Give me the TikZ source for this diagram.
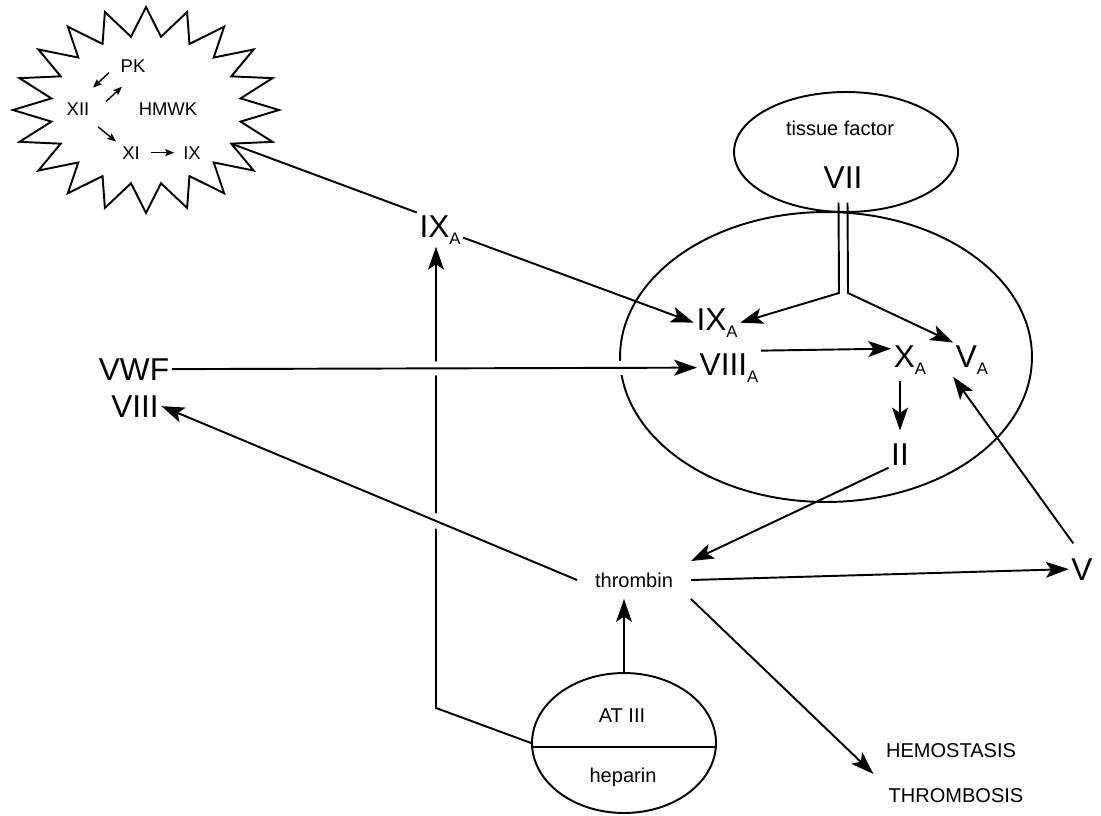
\documentclass[tikz,border=0pt]{standalone}
\usepackage{fontspec}
\setmainfont{Liberation Sans}
\usetikzlibrary{arrows.meta, positioning, shapes.geometric}

\newcommand{\subA}{\raisebox{-4pt}{\fontsize{9.5}{10}\selectfont A}}

\begin{document}
\begin{tikzpicture}[
        x=0.02cm, y=-0.02cm,
        line width=1.1pt,
        factor/.style={
            font=\fontsize{18}{20}\selectfont,
            inner sep=1pt,
            anchor=base
        },
        word/.style={
            font=\fontsize{11.4}{13}\selectfont,
            inner sep=1pt,
            anchor=base
        },
        burstlbl/.style={
            font=\fontsize{10.5}{12}\selectfont,
            inner sep=1pt,
            anchor=base
        },
        zone/.style={
            ellipse,
            draw,
            inner sep=0pt
        },
        link/.style={
            -{Stealth[length=13pt, width=9pt, inset=3pt]}
        },
        nudge/.style={
            -{Stealth[length=5pt, width=4pt, inset=1pt]},
            line width=0.8pt
        },
        gap/.style={
            draw=white,
            line width=8pt,
            shorten <=0.8cm,
            shorten >=0.8cm
        }
    ]
        \useasboundingbox (0,0) rectangle (1101,815);

        % contact activation burst
        \draw[line join=miter] (279,110)
            \foreach \k in {1,...,39}{
                -- ({146+133*(1-0.28*mod(\k,2))*cos(9*\k)}, {110+103*(1-0.28*mod(\k,2))*sin(9*\k)})
            } -- cycle;
        \coordinate (burstR) at ({146+133*0.72*cos(27)}, {110+103*0.72*sin(27)});

        \node (pk)   [burstlbl] at (133,72)  {PK};
        \node (xii)  [burstlbl] at (78,115)  {XII};
        \node (hmwk) [burstlbl] at (168,115) {HMWK};
        \node (xi)   [burstlbl] at (131,159) {XI};
        \node (ix)   [burstlbl] at (192,159) {IX};

        \draw[nudge] ([shift={(-0.18cm,0.04cm)}]pk.south west) -- ([shift={(0.02cm,0.24cm)}]xii.north east);
        \draw[nudge] ([shift={(0.28cm,-0.04cm)}]xii.north east) -- ([shift={(0.08cm,-0.24cm)}]pk.south west);
        \draw[nudge] ([shift={(0.12cm,-0.18cm)}]xii.south east) -- ([shift={(-0.07cm,0.04cm)}]xi.north west);
        \draw[nudge, shorten <=0.17cm, shorten >=0.13cm] (xi) -- (ix);

        % compartments
        \node (tf)    [zone, minimum width=4.48cm, minimum height=2.4cm] at (846,152) {};
        \node (cplx)  [zone, minimum width=8.24cm, minimum height=5.8cm] at (826,357) {};
        \node (atiii) [zone, minimum width=3.68cm, minimum height=2.8cm] at (624,743) {};

        \node (tftext) [word]   at (840,135)  {tissue factor};
        \node (vii)    [factor] at (843,188)  {VII};
        \node (ixa)    [factor] at (440,237)  {IX\subA};
        \node (vwf)    [factor] at (134,380)  {VWF};
        \node (viii)   [factor] at (135,417)  {VIII};
        \node (ixa2)   [factor] at (717,330)  {IX\subA};
        \node (viiia)  [factor] at (729,375)  {VIII\subA};
        \node (xa)     [factor] at (910,367)  {X\subA};
        \node (va)     [factor] at (972,367)  {V\subA};
        \node (ii)     [factor] at (900,465)  {II};
        \node (v)      [factor] at (1082,580) {V};
        \node (thr)    [word, anchor=center, minimum width=2.24cm, minimum height=0.72cm] at (634,580) {thrombin};
        \node (atlbl)  [word]   at (622,722)  {AT III};
        \node (hep)    [word]   at (623,782)  {heparin};
        \node (hemo)   [word]   at (951,757)  {HEMOSTASIS};
        \node (thb)    [word]   at (956,802)  {THROMBOSIS};

        \coordinate (fork) at (843.5,293);
        \coordinate (bend) at (436,708);

        \draw ([yshift=-0.08cm]atiii.west) -- ([yshift=-0.08cm]atiii.east);

        \draw[link] (atiii.west) -- (bend) -- (bend |- ixa.south);
        \draw (burstR) -- (ixa.north west);
        \draw[link] ([yshift=-0.16cm]ixa.east) -- (ixa2.west);
        \path[gap] (vwf.east) -- (viiia.west);
        \path[gap] (thr.west) -- (viii.east);
        \draw[link] (vwf.east) -- (viiia.west);
        \draw[link] (thr.west) -- (viii.east);

        \draw[link] ([shift={(-0.09cm,-0.24cm)}]vii.south) -- ([xshift=-0.09cm]fork) -- (ixa2.east);
        \draw[link] ([shift={(0.09cm,-0.24cm)}]vii.south) -- ([xshift=0.09cm]fork) -- (va.north west);
        \draw[link] ([yshift=0.34cm]viiia.east) -- ([yshift=0.22cm]xa.west);
        \draw[link, shorten <=0.08cm, shorten >=0.2cm] (xa.south -| ii.north) -- (ii.north);
        \draw[link] (ii.south west) -- (thr.north east);
        \draw[link] (thr.east) -- (v.west);
        \draw[link] (thr.south east) -- ([shift={(-0.2cm,-0.28cm)}]hemo.south west);
        \draw[link] (atiii.north) -- (atiii.north |- thr.south);
        \draw[link, shorten <=0.3cm] (v.north) -- (va.south west);
    \end{tikzpicture}
\end{document}
